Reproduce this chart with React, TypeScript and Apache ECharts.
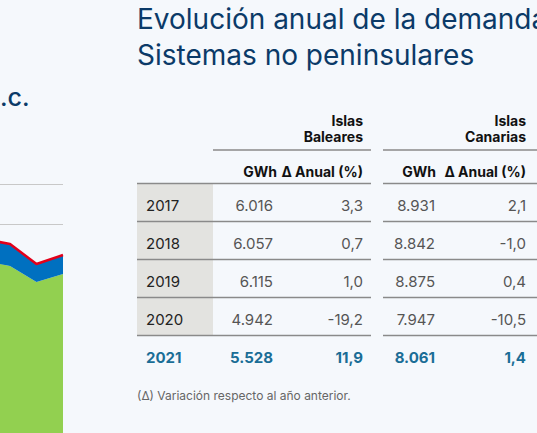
import React, { useEffect, useRef } from "react";
import * as echarts from "echarts";

// Left (partially visible) chart
const leftCategories = ["2018", "2019", "2020", "2021"];
const greenValues = [203, 198, 182, 190];
const blueValues = [22, 22, 18, 19];
const redTotal = [225, 220, 200, 209];

// Table data
const years = ["2017", "2018", "2019", "2020", "2021"];
const balearesGwh = [6016, 6057, 6115, 4942, 5528];
const balearesDelta = [3.3, 0.7, 1.0, -19.2, 11.9];
const canariasGwh = [8931, 8842, 8875, 7947, 8061];
const canariasDelta = [2.1, -1.0, 0.4, -10.5, 1.4];

const titleLines = ["Evolución anual de la demanda", "Sistemas no peninsulares"];
const groupHeaders = [["Islas", "Baleares"], ["Islas", "Canarias"]];
const subHeaders = ["GWh", "Δ Anual (%)"];
const footnote = "(Δ) Variación respecto al año anterior.";

const fmtGwh = (v: number) => {
  const s = String(Math.round(v));
  return s.replace(/\B(?=(\d{3})+(?!\d))/g, ".");
};
const fmtDelta = (v: number) => v.toFixed(1).replace(".", ",");

const FONT = "Inter, Roboto, 'Noto Sans', sans-serif";

export default function App() {
  const ref = useRef<HTMLDivElement>(null);
  useEffect(() => {
    document.body.style.margin = "0";
    if (!ref.current) return;
    const chart = echarts.init(ref.current, undefined, { renderer: "svg" });

    const rowTop = 183.5;
    const rowH = 38;
    const colYearX = 146;
    const colBG = 273;
    const colBD = 363;
    const colCG = 435;
    const colCD = 526;

    const g: any[] = [];
    // title
    g.push({
      type: "text", x: 137, y: 19,
      style: { text: titleLines[0], fill: "#0b3a68", font: `400 28px ${FONT}`, textVerticalAlign: "middle" },
    });
    g.push({
      type: "text", x: 137, y: 54.5,
      style: { text: titleLines[1], fill: "#0b3a68", font: `400 28px ${FONT}`, textVerticalAlign: "middle" },
    });
    g.push({
      type: "text", x: 0, y: 97,
      style: { text: ".c.", fill: "#0b3a68", font: `500 25px ${FONT}`, textVerticalAlign: "middle" },
    });

    // gray year cells
    g.push({
      type: "rect", shape: { x: 137, y: rowTop, width: 76, height: rowH * 4 },
      style: { fill: "#e3e3e0" },
    });

    // group headers (two lines each)
    const hdrRight = [colBD, colCD];
    groupHeaders.forEach((lines, i) => {
      lines.forEach((t, j) => {
        g.push({
          type: "text", x: hdrRight[i], y: 120.5 + j * 15.5,
          style: { text: t, fill: "#111", font: `700 14px ${FONT}`, textAlign: "right", textVerticalAlign: "middle" },
        });
      });
    });
    // header lines
    const lineColor = "#8a8a8a";
    g.push({ type: "line", shape: { x1: 213, y1: 150, x2: 371, y2: 150 }, style: { stroke: lineColor, lineWidth: 1.5 } });
    g.push({ type: "line", shape: { x1: 383, y1: 150, x2: 537, y2: 150 }, style: { stroke: lineColor, lineWidth: 1.5 } });

    // sub headers
    const subRight = [[277, colBD], [436, colCD]];
    subRight.forEach((pair) => {
      pair.forEach((x, k) => {
        g.push({
          type: "text", x, y: 171,
          style: { text: subHeaders[k], fill: "#111", font: `700 14px ${FONT}`, textAlign: "right", textVerticalAlign: "middle" },
        });
      });
    });

    // row lines (under subheader and between rows)
    for (let i = 0; i < 5; i++) {
      const y = rowTop + i * rowH;
      g.push({ type: "line", shape: { x1: 137, y1: y, x2: 371, y2: y }, style: { stroke: lineColor, lineWidth: 1.5 } });
      g.push({ type: "line", shape: { x1: 383, y1: y, x2: 537, y2: y }, style: { stroke: lineColor, lineWidth: 1.5 } });
    }

    // rows
    years.forEach((yr, i) => {
      const last = i === years.length - 1;
      const cy = rowTop + i * rowH + 21.5;
      const valColor = last ? "#1a6d96" : "#555";
      const weight = last ? 700 : 400;
      g.push({
        type: "text", x: colYearX, y: cy,
        style: { text: yr, fill: last ? "#1a6d96" : "#222", font: `${weight} 15px ${FONT}`, textVerticalAlign: "middle" },
      });
      const cells: [number, string][] = [
        [colBG, fmtGwh(balearesGwh[i])],
        [colBD, fmtDelta(balearesDelta[i])],
        [colCG, fmtGwh(canariasGwh[i])],
        [colCD, fmtDelta(canariasDelta[i])],
      ];
      cells.forEach(([x, t]) => {
        g.push({
          type: "text", x, y: cy,
          style: { text: t, fill: valColor, font: `${weight} 15px ${FONT}`, textAlign: "right", textVerticalAlign: "middle" },
        });
      });
    });

    // footnote
    g.push({
      type: "text", x: 137, y: 395,
      style: { text: footnote, fill: "#666", font: `400 12px ${FONT}`, textVerticalAlign: "middle" },
    });

    chart.setOption({
      animation: false,
      backgroundColor: "#f5f8fc",
      grid: { left: -16.5, top: 184, width: 79.5, height: 280, outerBoundsMode: "none", containLabel: false },
      xAxis: {
        type: "category", data: leftCategories, boundaryGap: false,
        axisLine: { show: false }, axisTick: { show: false }, axisLabel: { show: false }, splitLine: { show: false },
      },
      yAxis: {
        type: "value", min: 0, max: 280, interval: 40,
        axisLine: { show: false }, axisTick: { show: false }, axisLabel: { show: false },
        splitLine: { show: true, lineStyle: { color: "#c8c8c8", width: 1 } },
      },
      series: [
        {
          type: "line", stack: "a", data: greenValues, showSymbol: false,
          lineStyle: { width: 0 }, areaStyle: { color: "#92d050", opacity: 1 }, itemStyle: { color: "#92d050" },
        },
        {
          type: "line", stack: "a", data: blueValues, showSymbol: false,
          lineStyle: { width: 0 }, areaStyle: { color: "#0070c0", opacity: 1 }, itemStyle: { color: "#0070c0" },
        },
        {
          type: "line", data: redTotal, showSymbol: false,
          lineStyle: { width: 2.5, color: "#e2001a" }, itemStyle: { color: "#e2001a" },
        },
      ],
      graphic: g,
    });
    return () => chart.dispose();
  }, []);
  return <div ref={ref} style={{ width: 537, height: 433, background: "#f5f8fc" }} />;
}
